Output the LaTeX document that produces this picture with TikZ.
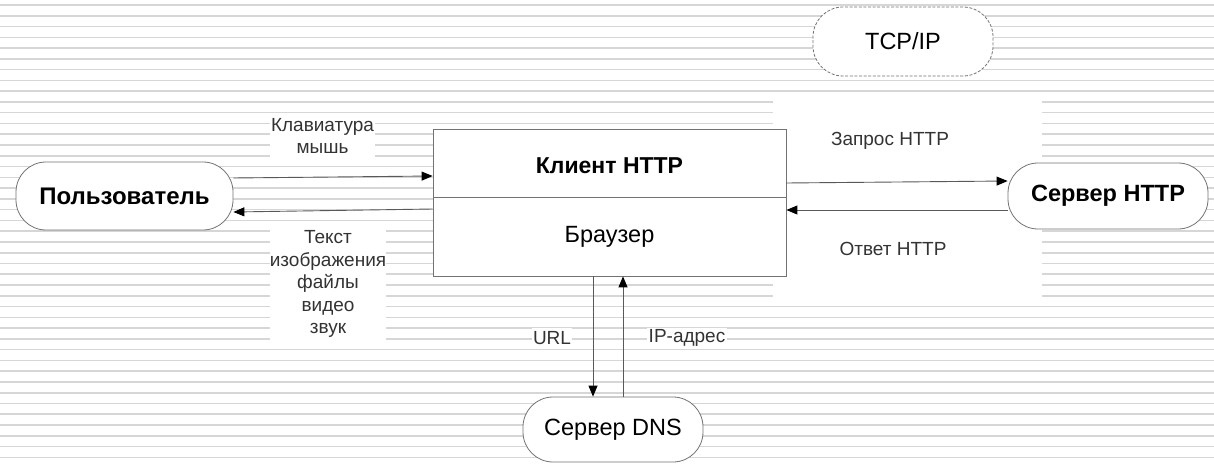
\documentclass[tikz,border=0pt]{standalone}
\usepackage{fontspec}
\setmainfont{Liberation Sans}
\usetikzlibrary{arrows.meta}
\begin{document}
\begin{tikzpicture}[x=1pt,y=-1pt,
  stripe/.style={draw=black!16, line width=1.6pt},
  term/.style={draw=black!55, fill=white, line width=0.8pt, rounded corners=30pt,
    inner sep=0pt, font=\fontsize{23.5}{27}\selectfont\bfseries},
  plainterm/.style={term, font=\fontsize{23.5}{27}\selectfont},
  part/.style={draw=black!55, fill=white, line width=0.8pt, inner sep=0pt,
    minimum width=353pt},
  lbl/.style={fill=white, inner sep=0pt, text=black!80, align=center,
    font=\fontsize{19}{22.5}\selectfont},
  arr/.style={draw=black!65, line width=0.9pt,
    -{Triangle[length=11pt,width=9pt,color=black]}}
]
\useasboundingbox (0,0) rectangle (1214,465);
\fill[white] (0,0) rectangle (1214,465);

% ruled background
\foreach \k in {0,...,42}
  \draw[stripe] (0,{5+10.77*\k}) -- (1214,{5+10.77*\k});

% blank panel behind the HTTP exchange
\fill[white] (773,95) rectangle (1042,297);

% client block: header and body
\node[part, minimum height=68pt, font=\fontsize{23}{27}\selectfont\bfseries,
      text depth=0pt] (head) at (609.5,163) {\raisebox{-5pt}{Клиент HTTP}};
\node[part, minimum height=79pt, font=\fontsize{23.5}{27}\selectfont] (browser) at (609.5,236.5) {Браузер};

% terminals
\node[term, minimum width=217pt, minimum height=68pt, font=\fontsize{24}{28}\selectfont\bfseries] (user) at (124.5,196) {Пользователь};
\node[term, minimum width=200pt, minimum height=66pt] (httpsrv) at (1108,196) {Сервер HTTP};
\node[plainterm, minimum width=180pt, minimum height=65pt] (dns) at (613,429.5) {Сервер DNS};
\node[plainterm, minimum width=180pt, minimum height=69pt, dash pattern=on 3pt off 1.6pt] (tcp) at (903,41.5) {TCP/IP};

% labels
\node[lbl, minimum width=105pt, minimum height=42pt] (kbd) at (322.5,136) {Клавиатура\\мышь};
\node[lbl, minimum width=116pt, minimum height=111pt] (media) at (328,284) {Текст\\изображения\\файлы\\видео\\звук};
\node[lbl, minimum width=40pt, minimum height=20pt] (url) at (552,338) {URL};
\node[lbl, minimum width=80pt, minimum height=20pt] (ip) at (687,338) {IP-адрес};
\node[lbl] (req) at (890,141) {Запрос HTTP};
\node[lbl] (resp) at (893,249) {Ответ HTTP};

% connectors
\draw[arr] (user.east |- 0,178) -- (head.west |- 0,176);
\draw[arr] (browser.west |- 0,209) -- (user.east |- 0,212);
\draw[arr] (head.east |- 0,183) -- (httpsrv.west |- 0,181);
\draw[arr] (httpsrv.west |- 0,210) -- (browser.east |- 0,210);
\draw[arr] (browser.south -| 593,0) -- (dns.north -| 593,0);
\draw[arr] (dns.north -| 623,0) -- (browser.south -| 623,0);
\end{tikzpicture}
\end{document}
